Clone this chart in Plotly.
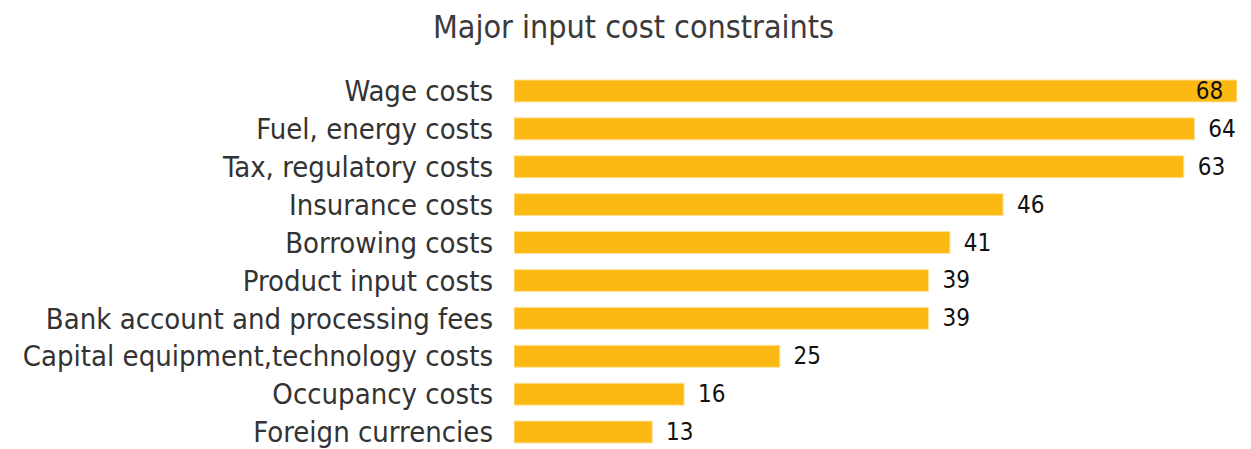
import plotly.graph_objects as go

categories = ["Wage costs", "Fuel, energy costs", "Tax, regulatory costs", "Insurance costs",
              "Borrowing costs", "Product input costs", "Bank account and processing fees",
              "Capital equipment,technology costs", "Occupancy costs", "Foreign currencies"]
values = [68, 64, 63, 46, 41, 39, 39, 25, 16, 13]
text_pos = ["inside"] + ["outside"] * 9

FONT = "DejaVu Sans Condensed"

# pad the value labels a little away from the bar ends
labels = [f"{v}\u2002" if p == "inside" else f"\u2002{v}" for v, p in zip(values, text_pos)]

fig = go.Figure(go.Bar(
    x=values, y=categories, orientation="h",
    marker=dict(color="#FDB913", line=dict(color="#FDE3A0", width=1)),
    text=labels, textposition=text_pos,
    insidetextanchor="end", textangle=0, constraintext="none",
    textfont=dict(family=FONT, size=24, color="#111111"),
    cliponaxis=False,
))

fig.update_layout(
    width=1251, height=449,
    title=dict(text="Major input cost constraints", x=0.5, xanchor="center", y=1, yanchor="top",
               pad=dict(t=8), font=dict(family=FONT, size=32, color="#3a3a3a")),
    font=dict(family=FONT, size=29, color="#333333"),
    plot_bgcolor="white", paper_bgcolor="white",
    margin=dict(l=506, r=22, t=64, b=6),
    bargap=0.42,
    showlegend=False,
)
fig.update_xaxes(range=[0, 68], visible=False)
fig.update_yaxes(autorange="reversed", showgrid=False, ticks="", ticklabelstandoff=20,
                 tickfont=dict(family=FONT, size=29, color="#333333"))

fig.write_html("out.html")
